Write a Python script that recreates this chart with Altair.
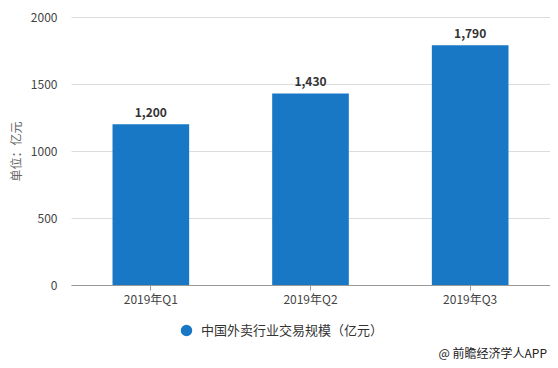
import altair as alt
import pandas as pd

categories = ["2019年Q1", "2019年Q2", "2019年Q3"]
values = [1200, 1430, 1790]
series_name = "中国外卖行业交易规模（亿元）"
y_ticks = [0, 500, 1000, 1500, 2000]

df = pd.DataFrame({"quarter": categories, "value": values, "series": [series_name] * 3})

FONT = "Noto Sans CJK SC"
BLUE = "#1878c5"

base = alt.Chart(df)

x = alt.X("quarter:N", sort=categories, title=None,
          scale=alt.Scale(range=[9, 488], paddingInner=0.52, paddingOuter=0.26),
          axis=alt.Axis(labelAngle=0, labelFontSize=12, labelColor="#444", labelFont=FONT,
                        tickSize=5, tickColor="#999", domainColor="#999", labelPadding=4,
                        grid=False))

bars = base.mark_bar(color=BLUE).encode(
    x=x,
    y=alt.Y("value:Q", title="单位：亿元",
            scale=alt.Scale(domain=[0, 2000]),
            axis=alt.Axis(values=y_ticks, format="d", labelFontSize=12, labelColor="#444",
                          labelFont=FONT, tickSize=0, domain=False, gridColor="#dcdcdc",
                          labelPadding=5, titleFont=FONT, titleFontSize=12, titleColor="#666",
                          titleFontWeight="normal", titleX=-46, titleY=134, titleAngle=-90,
                          titleBaseline="middle", titleAlign="center")),
    color=alt.Color("series:N", scale=alt.Scale(range=[BLUE]),
                    legend=alt.Legend(title=None, orient="none", legendX=118, legendY=307,
                                      symbolType="circle", symbolSize=130,
                                      labelFont=FONT, labelFontSize=13, labelColor="#333",
                                      labelOffset=8, labelLimit=400)),
)

labels = base.mark_text(dy=-11, fontWeight="bold", fontSize=12, font=FONT, color="#333").encode(
    x=alt.X("quarter:N", sort=categories),
    y="value:Q",
    text=alt.Text("value:Q", format=","),
)

source = alt.Chart(pd.DataFrame({"t": ["@ 前瞻经济学人APP"]})).mark_text(
    align="right", baseline="middle", fontSize=12, font=FONT, color="#222"
).encode(x=alt.value(485), y=alt.value(337), text="t:N")

chart = alt.layer(bars, labels, source).properties(
    width=488, height=268,
    autosize=alt.AutoSizeParams(type="none"),
    padding={"left": 54, "top": 9, "right": 0, "bottom": 75},
).configure_view(stroke=None)

chart.save("out.html", embed_options={"renderer": "svg", "actions": False})
